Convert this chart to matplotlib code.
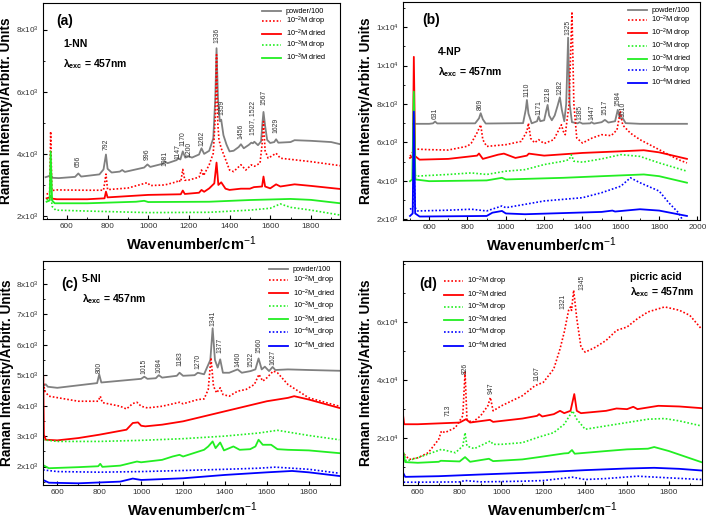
import matplotlib
matplotlib.use('Agg')
import matplotlib.pyplot as plt
from matplotlib.ticker import MultipleLocator, FixedLocator, FixedFormatter

# fonts: Arial-like everywhere, also inside mathtext
plt.rcParams['font.family'] = ['Liberation Sans', 'DejaVu Sans']
plt.rcParams['mathtext.fontset'] = 'custom'
plt.rcParams['mathtext.rm'] = 'Liberation Sans'
plt.rcParams['mathtext.bf'] = 'Liberation Sans:bold'
plt.rcParams['mathtext.it'] = 'Liberation Sans:italic'

GRAY = '#808080'
RED = '#ff0000'
GREEN = '#22ee22'
BLUE = '#0000ff'

# ---------------- panel (a) 1-NN ----------------
a_powder = [(495, 3250), (510, 3280), (520, 3330), (530, 3230), (560, 3220), (640, 3260), (656, 3370),
            (670, 3270), (760, 3340), (780, 3500), (792, 3980), (800, 3520), (820, 3400), (860, 3430),
            (872, 3480), (885, 3420), (980, 3560), (996, 3660), (1010, 3580), (1070, 3680), (1081, 3760),
            (1095, 3700), (1140, 3800), (1147, 3860), (1158, 3820), (1170, 4080), (1182, 3880), (1200, 3920),
            (1215, 3880), (1250, 3980), (1262, 4180), (1275, 4000), (1300, 4100), (1320, 4500), (1330, 5800),
            (1336, 7400), (1343, 5800), (1352, 5050), (1359, 5100), (1370, 4600), (1385, 4300), (1400, 4080),
            (1420, 4100), (1445, 4220), (1456, 4310), (1470, 4180), (1495, 4290), (1507, 4360), (1515, 4340),
            (1522, 4390), (1540, 4280), (1555, 4400), (1562, 5000), (1567, 5350), (1575, 4900), (1585, 4450),
            (1600, 4350), (1620, 4380), (1629, 4470), (1640, 4360), (1700, 4380), (1720, 4440), (1800, 4420),
            (1900, 4380), (1945, 4310)]
a_drop2 = [(500, 2700), (515, 2750), (520, 4720), (526, 2820), (550, 2840), (700, 2830), (780, 2830),
           (792, 3350), (800, 2850), (900, 2900), (996, 3075), (1010, 2980), (1081, 3000), (1140, 3100),
           (1147, 3160), (1160, 3100), (1170, 3500), (1180, 3150), (1200, 3160), (1250, 3250), (1262, 3480),
           (1272, 3300), (1300, 3650), (1320, 4020), (1330, 5200), (1336, 7190), (1342, 5000), (1348, 4450),
           (1359, 4180), (1370, 4000), (1400, 3480), (1420, 3430), (1456, 3650), (1480, 3480), (1507, 3645),
           (1522, 3600), (1550, 3700), (1560, 4300), (1567, 5040), (1575, 4100), (1590, 3860), (1629, 4020),
           (1650, 3860), (1800, 3750), (1945, 3620)]
a_dried2 = [(500, 2570), (515, 2600), (520, 2650), (528, 2560), (550, 2540), (700, 2540), (785, 2570),
            (792, 2785), (800, 2600), (1000, 2680), (1160, 2700), (1170, 2820), (1180, 2710), (1250, 2750),
            (1262, 2840), (1275, 2780), (1300, 2890), (1325, 3050), (1336, 3720), (1345, 3000), (1359, 3085),
            (1380, 2880), (1400, 2840), (1456, 2880), (1500, 2880), (1520, 2930), (1560, 2950), (1567, 3270),
            (1575, 2950), (1600, 2890), (1629, 3020), (1650, 2950), (1720, 3020), (1800, 2970), (1945, 2870)]
a_drop3 = [(500, 2520), (515, 2560), (520, 2680), (528, 2300), (545, 2190), (700, 2160), (1000, 2110),
           (1300, 2120), (1500, 2190), (1600, 2250), (1650, 2390), (1700, 2280), (1800, 2190), (1945, 2030)]
a_dried3 = [(500, 2460), (515, 2500), (520, 4075), (527, 2500), (540, 2410), (700, 2410), (940, 2460),
            (980, 2490), (1000, 2450), (1300, 2460), (1500, 2515), (1700, 2550), (1800, 2520), (1945, 2410)]
a_peaks = [('656', 656, 3590), ('792', 792, 4130), ('996', 996, 3800), ('1081', 1081, 3620),
           ('1147', 1147, 3830), ('1170', 1170, 4240), ('1200', 1200, 3910), ('1262', 1262, 4240),
           ('1336', 1336, 7570), ('1359', 1362, 5260), ('1456', 1456, 4470), ('1507, 1522', 1515, 4610),
           ('1567', 1567, 5580), ('1629', 1629, 4670)]

# ---------------- panel (b) 4-NP ----------------
b_powder = [(516, 6965), (600, 6965), (620, 6990), (631, 7085), (642, 6985), (840, 6990), (860, 7250),
            (869, 7517), (880, 7200), (895, 6980), (1090, 7000), (1104, 7700), (1110, 8206), (1118, 7500),
            (1135, 6990), (1163, 7100), (1171, 7344), (1180, 7100), (1200, 7150), (1212, 7700), (1218, 7948),
            (1226, 7400), (1240, 7150), (1255, 7400), (1270, 7900), (1282, 8344), (1292, 7700), (1305, 7100),
            (1315, 8000), (1325, 11450), (1333, 8000), (1345, 7050), (1375, 6990), (1385, 7050), (1400, 6975),
            (1440, 6990), (1447, 7050), (1460, 6975), (1500, 7050), (1517, 7170), (1535, 7030), (1570, 7100),
            (1584, 7690), (1595, 7250), (1610, 7260), (1625, 7000), (1700, 6965), (1945, 6965)]
b_drop2 = [(500, 5275), (515, 5500), (530, 5650), (600, 5620), (700, 5600), (800, 5800), (820, 5965),
           (850, 6500), (869, 6915), (880, 6140), (900, 5790), (1000, 5880), (1080, 6050), (1110, 6570),
           (1118, 7000), (1130, 6200), (1150, 5980), (1171, 6140), (1200, 5940), (1250, 6140), (1290, 6915),
           (1300, 6570), (1310, 6400), (1330, 8000), (1345, 12800), (1355, 8000), (1370, 6225), (1400, 5965),
           (1450, 6225), (1500, 6400), (1550, 6350), (1580, 6650), (1597, 7600), (1610, 6900), (1650, 6480),
           (1700, 6140), (1800, 5620), (1900, 5100), (1945, 4930)]
b_dried2 = [(500, 5190), (515, 5280), (520, 10450), (527, 5280), (550, 5100), (700, 5140), (850, 5310),
            (860, 5420), (880, 5140), (960, 5360), (990, 5415), (1050, 5190), (1110, 5310), (1120, 5415),
            (1200, 5310), (1400, 5450), (1600, 5535), (1720, 5590), (1800, 5480), (1945, 5140)]
b_drop3 = [(520, 4500), (530, 4240), (700, 4330), (820, 4410), (900, 4330), (1000, 4500), (1100, 4580),
           (1200, 4845), (1300, 5020), (1330, 5100), (1342, 5360), (1355, 5020), (1400, 4970), (1500, 5140),
           (1600, 5360), (1700, 5270), (1800, 4930), (1945, 4500)]
b_dried3 = [(500, 3980), (512, 4070), (520, 8640), (528, 4070), (600, 3980), (900, 4020), (980, 4155),
            (1000, 4070), (1300, 4155), (1500, 4240), (1720, 4330), (1800, 4240), (1945, 3900)]
b_drop4 = [(500, 2520), (515, 2600), (520, 5000), (527, 2600), (540, 2430), (700, 2470), (820, 2520),
           (900, 2430), (980, 2690), (1000, 2600), (1200, 2950), (1400, 3120), (1500, 3380), (1600, 3720),
           (1650, 4155), (1700, 3900), (1800, 3465), (1850, 2860), (1900, 2345), (1920, 2000)]
b_dried4 = [(500, 2170), (514, 2300), (520, 7600), (527, 2300), (550, 2140), (900, 2170), (930, 2340),
            (980, 2430), (1000, 2300), (1100, 2260), (1500, 2380), (1556, 2450), (1570, 2400), (1700, 2520),
            (1800, 2450), (1945, 2170)]
b_peaks = [('631', 631, 7200), ('869', 869, 7690), ('1110', 1110, 8345), ('1171', 1171, 7430),
           ('1218', 1218, 8120), ('1282', 1282, 8465), ('1325', 1325, 11570), ('1385', 1385, 7170),
           ('1447', 1447, 7170), ('1517', 1517, 7430), ('1584', 1584, 7900), ('1610', 1612, 7340)]

# ---------------- panel (c) 5-NI ----------------
c_powder = [(532, 4640), (545, 4700), (555, 4620), (600, 4585), (790, 4740), (800, 5025), (810, 4760),
            (1000, 4880), (1015, 4950), (1030, 4880), (1070, 4900), (1084, 5000), (1100, 4920), (1170, 4980),
            (1183, 5080), (1200, 4980), (1255, 5000), (1270, 5080), (1300, 5030), (1330, 5500), (1341, 6540),
            (1352, 5500), (1365, 5250), (1377, 5520), (1390, 5080), (1420, 5080), (1460, 5190), (1480, 5080),
            (1522, 5135), (1545, 5190), (1560, 5550), (1575, 5190), (1590, 5280), (1610, 5135), (1627, 5270),
            (1640, 5170), (1700, 5190), (1800, 5170), (1945, 5145)]
c_drop2 = [(530, 4970), (540, 4475), (560, 4310), (700, 4145), (795, 4145), (805, 4310), (815, 4100),
           (900, 3980), (930, 3890), (960, 4070), (980, 4110), (1000, 3980), (1030, 3925), (1100, 3980),
           (1183, 4110), (1200, 4060), (1270, 4200), (1300, 4220), (1320, 4530), (1333, 5575), (1345, 4640),
           (1360, 4420), (1377, 4585), (1390, 4365), (1420, 4310), (1460, 4475), (1500, 4530), (1540, 4695),
           (1562, 5025), (1580, 4805), (1600, 4915), (1630, 5135), (1650, 5080), (1700, 4695), (1800, 4255),
           (1945, 3980)]
c_dried2 = [(533, 4970), (536, 3045), (545, 2880), (600, 2860), (700, 2935), (800, 3045), (930, 3210),
            (960, 3430), (985, 3450), (1000, 3340), (1020, 3320), (1100, 3375), (1200, 3485), (1300, 3650),
            (1400, 3815), (1500, 3980), (1600, 4145), (1700, 4255), (1730, 4310), (1800, 4200), (1945, 3925)]
c_drop3 = [(532, 2880), (600, 2825), (800, 2825), (1000, 2860), (1200, 2915), (1400, 3000), (1560, 3100),
           (1650, 3190), (1800, 3020), (1945, 2880)]
c_dried3 = [(530, 2055), (560, 1945), (700, 1980), (795, 2010), (805, 2090), (815, 1990), (900, 2030),
            (980, 2165), (1000, 2140), (1100, 2220), (1150, 2330), (1183, 2385), (1200, 2330), (1300, 2550),
            (1320, 2660), (1341, 2825), (1355, 2605), (1377, 2790), (1395, 2530), (1440, 2660), (1470, 2550),
            (1520, 2570), (1545, 2660), (1560, 2880), (1580, 2715), (1620, 2715), (1650, 2570), (1700, 2550),
            (1800, 2530), (1945, 2440)]
c_drop4 = [(532, 1890), (600, 1835), (800, 1815), (1000, 1835), (1200, 1870), (1400, 1910), (1560, 1945),
           (1640, 1980), (1800, 1910), (1945, 1780)]
c_dried4 = [(532, 1560), (560, 1470), (700, 1450), (900, 1505), (960, 1605), (1000, 1560), (1200, 1615),
            (1400, 1725), (1600, 1810), (1720, 1855), (1800, 1810), (1945, 1690)]
c_peaks = [('800', 800, 5080), ('1015', 1015, 5025), ('1084', 1084, 5080), ('1183', 1183, 5300),
           ('1270', 1270, 5190), ('1341', 1341, 6620), ('1377', 1377, 5740), ('1460', 1460, 5280),
           ('1522', 1522, 5280), ('1560', 1560, 5720), ('1627', 1627, 5320)]

# ---------------- panel (d) picric acid ----------------
d_drop2 = [(535, 14500), (560, 12740), (600, 13300), (650, 15040), (700, 19650), (713, 22500), (730, 21960),
           (780, 23690), (815, 27720), (826, 42700), (835, 26570), (860, 25420), (900, 27720), (935, 31180),
           (947, 34060), (960, 29450), (1000, 31180), (1100, 34640), (1160, 38100), (1200, 39260),
           (1250, 43870), (1280, 50790), (1300, 56550), (1321, 64050), (1330, 65200), (1335, 64000),
           (1345, 70960), (1360, 61160), (1380, 51360), (1400, 49630), (1450, 51360), (1500, 53670),
           (1550, 57130), (1600, 58280), (1650, 61160), (1700, 63470), (1780, 65200), (1850, 64050),
           (1900, 62300), (1955, 57700)]
d_dried2 = [(530, 27720), (535, 24840), (600, 24840), (800, 25420), (830, 26570), (850, 25420), (945, 26340),
            (960, 25650), (1100, 26800), (1170, 27720), (1180, 28300), (1195, 27500), (1250, 28300),
            (1280, 29450), (1300, 28650), (1330, 29450), (1348, 35220), (1360, 29450), (1380, 28650),
            (1500, 29450), (1550, 30260), (1600, 30030), (1630, 30840), (1650, 30030), (1750, 31180),
            (1850, 30950), (1955, 30380)]
d_drop3 = [(532, 15040), (545, 12160), (600, 13300), (713, 16200), (780, 15040), (815, 17350), (826, 21960),
           (835, 17350), (870, 16430), (947, 19080), (960, 17930), (1000, 17930), (1100, 18500), (1170, 20230),
           (1250, 21960), (1300, 24840), (1330, 28300), (1340, 29450), (1360, 26570), (1400, 23110),
           (1500, 24270), (1600, 25420), (1700, 26570), (1780, 26800), (1850, 25990), (1955, 24270)]
d_dried3 = [(530, 15270), (540, 11810), (600, 11580), (700, 11920), (710, 12270), (800, 12040), (826, 13540),
            (850, 11920), (940, 12960), (960, 12150), (1100, 12740), (1180, 13540), (1300, 14810), (1320, 14900),
            (1337, 15960), (1350, 14700), (1500, 15620), (1600, 16200), (1700, 16430), (1730, 17000),
            (1800, 15620), (1955, 11810)]
d_drop4 = [(532, 4900), (600, 4900), (800, 5000), (826, 5470), (900, 5010), (1100, 5240), (1200, 5470),
           (1340, 6620), (1400, 5820), (1500, 6160), (1650, 6970), (1800, 6400), (1955, 5820)]
d_dried4 = [(530, 8120), (540, 6740), (700, 6970), (900, 7550), (1200, 8350), (1400, 9050), (1600, 9620),
            (1730, 9850), (1850, 9500), (1955, 8930)]
d_peaks = [('713', 745, 27700), ('826', 828, 42100), ('947', 950, 35200), ('1167', 1169, 39800),
           ('1321', 1292, 64600), ('1345', 1385, 71000)]

DOT = (0, (1, 1.2))


def sup(n):
    return r'10$^{-%d}$M' % n


def draw(ax, curves, peaks, xlim, ylim):
    for pts, color, style, label in curves:
        xs = [p[0] for p in pts]
        ys = [p[1] for p in pts]
        ax.plot(xs, ys, color=color, lw=1.3 if style == '-' else 1.2,
                linestyle=DOT if style == ':' else '-', label=label)
    for txt, px, py in peaks:
        ax.text(px, py, txt, rotation=90, ha='center', va='bottom', fontsize=4.9, color='#333333')
    ax.set_xlim(*xlim)
    ax.set_ylim(*ylim)
    ax.set_xlabel('Wavenumber/cm$^{-1}$', fontsize=10.5, fontweight='bold', labelpad=3)
    ax.set_ylabel('Raman Intensity/Arbitr. Units', fontsize=9.8, fontweight='bold', labelpad=2)
    ax.xaxis.set_minor_locator(MultipleLocator(100))
    ax.tick_params(which='both', direction='in', top=False, right=False, labelsize=5.9,
                   labelcolor='#333333', pad=3)
    ax.tick_params(which='major', length=3, width=0.8)
    ax.tick_params(which='minor', length=1.6, width=0.6)
    for s in ax.spines.values():
        s.set_linewidth(0.8)


def sci_labels(ax, ticks, labels, minor):
    ax.yaxis.set_major_locator(FixedLocator(ticks))
    ax.yaxis.set_major_formatter(FixedFormatter(labels))
    ax.yaxis.set_minor_locator(MultipleLocator(minor))


fig = plt.figure(figsize=(7.09, 5.23), dpi=100)
axa = fig.add_axes([0.060, 0.581, 0.420, 0.413])
axb = fig.add_axes([0.568, 0.579, 0.419, 0.417])
axc = fig.add_axes([0.061, 0.073, 0.419, 0.428])
axd = fig.add_axes([0.568, 0.073, 0.422, 0.428])

leg_kw = dict(frameon=False, fontsize=5.3, handlelength=2.6, labelspacing=-0.05, handletextpad=0.6,
              borderaxespad=0.3)

# (a)
draw(axa, [(a_powder, GRAY, '-', 'powder/100'),
           (a_drop2, RED, ':', sup(2) + ' drop'),
           (a_dried2, RED, '-', sup(2) + ' dried'),
           (a_drop3, GREEN, ':', sup(3) + ' drop'),
           (a_dried3, GREEN, '-', sup(3) + ' dried')],
     a_peaks, (480, 1945), (1900, 8850))
sci_labels(axa, [2000, 4000, 6000, 8000],
           ['2x10$^3$', '4x10$^3$', '6x10$^3$', '8x10$^3$'], 1000)
axa.legend(loc='upper right', bbox_to_anchor=(0.97, 1.0), **leg_kw)
axa.text(0.045, 0.95, '(a)', transform=axa.transAxes, fontsize=10, fontweight='bold', va='top')
axa.text(0.07, 0.81, '1-NN', transform=axa.transAxes, fontsize=7.5, fontweight='bold', va='center')
axa.text(0.07, 0.72, r'λ$_{\mathbf{exc}}$ = 457nm', transform=axa.transAxes, fontsize=7.5,
         fontweight='bold', va='center')

# (b)
draw(axb, [(b_powder, GRAY, '-', 'powder/100'),
           (b_drop2, RED, ':', sup(2) + ' drop'),
           (b_dried2, RED, '-', sup(2) + ' drop'),
           (b_drop3, GREEN, ':', sup(3) + ' drop'),
           (b_dried3, GREEN, '-', sup(3) + ' dried'),
           (b_drop4, BLUE, ':', sup(4) + ' drop'),
           (b_dried4, BLUE, '-', sup(4) + ' dried')],
     b_peaks, (462, 2012), (1950, 13300))
sci_labels(axb, [2000, 4000, 6000, 8000, 10000, 12000],
           ['2x10$^3$', '4x10$^3$', '6x10$^3$', '8x10$^3$', '1x10$^4$', '1x10$^4$'], 1000)
axb.legend(loc='upper right', bbox_to_anchor=(0.99, 1.0), **leg_kw)
axb.text(0.065, 0.95, '(b)', transform=axb.transAxes, fontsize=10, fontweight='bold', va='top')
axb.text(0.12, 0.77, '4-NP', transform=axb.transAxes, fontsize=7.5, fontweight='bold', va='center')
axb.text(0.12, 0.68, r'λ$_{\mathbf{exc}}$ = 457nm', transform=axb.transAxes, fontsize=7.5,
         fontweight='bold', va='center')

# (c)
draw(axc, [(c_powder, GRAY, '-', 'powder/100'),
           (c_drop2, RED, ':', sup(2) + '_drop'),
           (c_dried2, RED, '-', sup(2) + '_dried'),
           (c_drop3, GREEN, ':', sup(3) + '_drop'),
           (c_dried3, GREEN, '-', sup(3) + '_dried'),
           (c_drop4, BLUE, ':', sup(4) + '_drop'),
           (c_dried4, BLUE, '-', sup(4) + '_dried')],
     c_peaks, (533, 1950), (1400, 8750))
sci_labels(axc, [2000, 3000, 4000, 5000, 6000, 7000, 8000],
           ['%dx10$^3$' % k for k in range(2, 9)], 500)
axc.legend(loc='upper right', bbox_to_anchor=(1.0, 1.0), **dict(leg_kw, labelspacing=0.02))
axc.text(0.06, 0.93, '(c)', transform=axc.transAxes, fontsize=10, fontweight='bold', va='top')
axc.text(0.13, 0.92, '5-NI', transform=axc.transAxes, fontsize=7.5, fontweight='bold', va='center')
axc.text(0.13, 0.83, r'λ$_{\mathbf{exc}}$ = 457nm', transform=axc.transAxes, fontsize=7.5,
         fontweight='bold', va='center')

# (d)
draw(axd, [(d_drop2, RED, ':', sup(2) + ' drop'),
           (d_dried2, RED, '-', sup(2) + ' dried'),
           (d_drop3, GREEN, ':', sup(3) + ' drop'),
           (d_dried3, GREEN, '-', sup(3) + ' dried'),
           (d_drop4, BLUE, ':', sup(4) + ' drop'),
           (d_dried4, BLUE, '-', sup(4) + ' dried')],
     d_peaks, (528, 1958), (4000, 81000))
sci_labels(axd, [20000, 40000, 60000], ['2x10$^4$', '4x10$^4$', '6x10$^4$'], 10000)
axd.legend(loc='upper left', bbox_to_anchor=(0.12, 0.96), **dict(leg_kw, labelspacing=0.05))
axd.text(0.055, 0.93, '(d)', transform=axd.transAxes, fontsize=10, fontweight='bold', va='top')
axd.text(0.76, 0.93, 'picric acid', transform=axd.transAxes, fontsize=7.5, fontweight='bold', va='center')
axd.text(0.76, 0.86, r'λ$_{\mathbf{exc}}$ = 457nm', transform=axd.transAxes, fontsize=7.5,
         fontweight='bold', va='center')

fig.savefig('out.png', dpi=100)
